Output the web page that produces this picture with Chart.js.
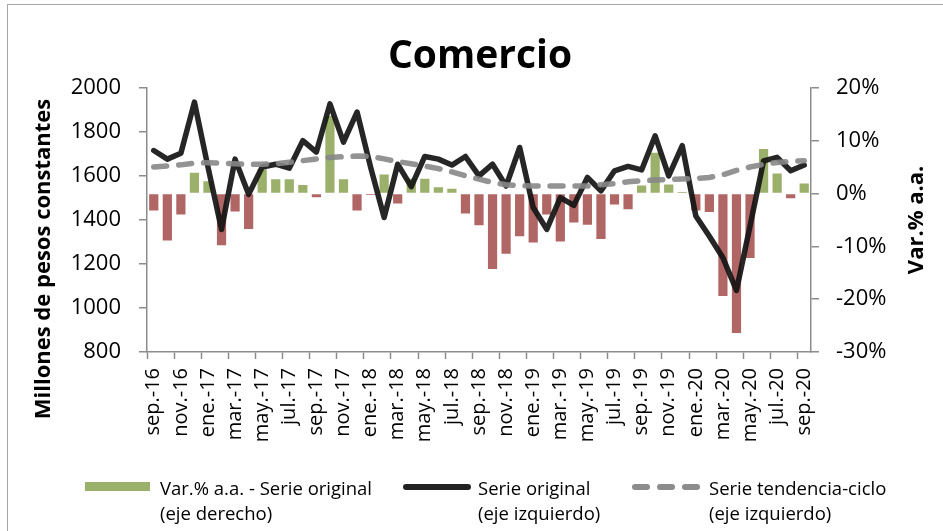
<!DOCTYPE html>
<html>
<head>
<meta charset="utf-8">
<script src="https://cdn.jsdelivr.net/npm/chart.js@4.4.1/dist/chart.umd.min.js"></script>
<style>
  html, body { margin: 0; padding: 0; background: #fff; overflow: hidden; }
  #wrap { position: relative; width: 943px; height: 531px; }
  #frame { position: absolute; left: 7px; top: 4px; width: 1000px; height: 600px;
    border-left: 1.5px solid #a6a6a6; border-top: 1.5px solid #a6a6a6; pointer-events: none; }
  .leg { position: absolute; font-family: "Open Sans", sans-serif; font-size: 18.5px; line-height: 25px; color: #000; white-space: nowrap; }
  .sw { position: absolute; }
</style>
</head>
<body>
<div id="wrap">
  <canvas id="myChart" width="943" height="531"></canvas>
  <div id="frame"></div>
  <div class="sw" style="left:85px; top:482px; width:65px; height:9px; background:#9bb06b;"></div>
  <div class="leg" id="leg1" style="left:160px; top:475px;"></div>
  <div class="sw" style="left:403px; top:484px; width:68px; height:6px; border-radius:3px; background:#222;"></div>
  <div class="leg" id="leg2" style="left:478px; top:475px;"></div>
  <div class="sw" style="left:632px; top:484px; width:18px; height:6px; border-radius:3px; background:#8c8c8c;"></div>
  <div class="sw" style="left:657px; top:484px; width:18px; height:6px; border-radius:3px; background:#8c8c8c;"></div>
  <div class="sw" style="left:682px; top:484px; width:18px; height:6px; border-radius:3px; background:#8c8c8c;"></div>
  <div class="leg" id="leg3" style="left:709px; top:475px;"></div>
</div>
<script>
/* global Chart */
var meses = [
  'sep.-16', 'oct.-16', 'nov.-16', 'dic.-16',
  'ene.-17', 'feb.-17', 'mar.-17', 'abr.-17', 'may.-17', 'jun.-17', 'jul.-17', 'ago.-17', 'sep.-17', 'oct.-17', 'nov.-17', 'dic.-17',
  'ene.-18', 'feb.-18', 'mar.-18', 'abr.-18', 'may.-18', 'jun.-18', 'jul.-18', 'ago.-18', 'sep.-18', 'oct.-18', 'nov.-18', 'dic.-18',
  'ene.-19', 'feb.-19', 'mar.-19', 'abr.-19', 'may.-19', 'jun.-19', 'jul.-19', 'ago.-19', 'sep.-19', 'oct.-19', 'nov.-19', 'dic.-19',
  'ene.-20', 'feb.-20', 'mar.-20', 'abr.-20', 'may.-20', 'jun.-20', 'jul.-20', 'ago.-20', 'sep.-20'
];

// variacion % anual (eje derecho)
var varAnual = [
  -3.2, -8.9, -4.0, 3.9, 2.3, -9.8, -3.4, -6.7, 4.6, 2.7, 2.7, 1.6, -0.7, 14.7, 2.7, -3.2,
  -0.3, 3.6, -1.9, 2.8, 2.8, 1.2, 0.9, -3.8, -6.0, -14.3, -11.4, -8.1, -9.3, -4.0, -9.1, -5.5,
  -5.9, -8.6, -2.1, -3.0, 1.5, 7.7, 1.7, 0.3, -3.2, -3.5, -19.4, -26.4, -12.2, 8.4, 3.8, -0.9, 1.9
];

// millones de pesos constantes (eje izquierdo)
var serieOriginal = [
  1715, 1676, 1703, 1935, 1640, 1357, 1676, 1516, 1640, 1653, 1635, 1760, 1708, 1927, 1753, 1890,
  1640, 1411, 1653, 1551, 1688, 1676, 1649, 1688, 1600, 1653, 1554, 1729, 1456, 1357, 1501, 1466,
  1593, 1532, 1623, 1643, 1627, 1782, 1600, 1737, 1418, 1326, 1228, 1080, 1372, 1668, 1684, 1623, 1649
];

var tendenciaCiclo = [
  1640, 1645, 1650, 1658, 1660, 1658, 1655, 1652, 1653, 1655, 1662, 1669, 1677, 1683, 1687, 1690,
  1688, 1677, 1665, 1655, 1645, 1633, 1618, 1600, 1585, 1570, 1560, 1555, 1554, 1554, 1554, 1554,
  1554, 1560, 1565, 1573, 1578, 1581, 1584, 1586, 1587, 1593, 1605, 1625, 1640, 1652, 1661, 1666, 1669
];

var ticksIzq = [800, 1000, 1200, 1400, 1600, 1800, 2000];
var ticksDer = [-30, -20, -10, 0, 10, 20];

var tituloIzq = 'Millones de pesos constantes';
var tituloDer = 'Var.% a.a.';
var leyendas = [
  ['Var.% a.a. - Serie original', '(eje derecho)'],
  ['Serie original', '(eje izquierdo)'],
  ['Serie tendencia-ciclo', '(eje izquierdo)']
];

document.getElementById('leg1').innerHTML = leyendas[0].join('<br>');
document.getElementById('leg2').innerHTML = leyendas[1].join('<br>');
document.getElementById('leg3').innerHTML = leyendas[2].join('<br>');

var fuente = '"Open Sans", sans-serif';
var gris = '#8c8c8c';

var axisTitles = {
  id: 'axisTitles',
  afterDraw: function(chart) {
    var c = chart.ctx;
    c.save();
    c.font = 'bold 22px ' + fuente;
    c.fillStyle = '#000';
    c.textAlign = 'center';
    c.textBaseline = 'middle';
    c.translate(44, 259);
    c.rotate(-Math.PI / 2);
    c.fillText(tituloIzq, 0, 0);
    c.restore();
    c.save();
    c.font = 'bold 22px ' + fuente;
    c.fillStyle = '#000';
    c.textAlign = 'center';
    c.textBaseline = 'middle';
    c.translate(917, (chart.chartArea.top + chart.chartArea.bottom) / 2);
    c.rotate(-Math.PI / 2);
    c.fillText(tituloDer, 0, 0);
    c.restore();
  }
};

var ctx = document.getElementById('myChart');
var myChart = new Chart(ctx, {
  type: 'bar',
  data: {
    labels: meses,
    datasets: [
      {
        type: 'line',
        label: 'Serie tendencia-ciclo',
        data: tendenciaCiclo,
        yAxisID: 'y',
        borderColor: 'rgba(135,135,135,0.9)',
        borderWidth: 5.5,
        borderDash: [13, 12],
        borderCapStyle: 'round',
        pointRadius: 0,
        fill: false,
        order: 0
      },
      {
        type: 'line',
        label: 'Serie original',
        data: serieOriginal,
        yAxisID: 'y',
        borderColor: 'rgba(20,20,20,0.92)',
        borderWidth: 5.5,
        borderJoinStyle: 'round',
        borderCapStyle: 'round',
        pointRadius: 0,
        fill: false,
        order: 1
      },
      {
        label: 'Var.% a.a. - Serie original',
        data: varAnual,
        yAxisID: 'y2',
        backgroundColor: varAnual.map(function(v) { return v >= 0 ? '#9bb06b' : '#b06664'; }),
        barPercentage: 0.68,
        categoryPercentage: 1,
        order: 2
      }
    ]
  },
  options: {
    responsive: false,
    animation: false,
    layout: { padding: { left: 17, right: 0, top: 0, bottom: 79 } },
    plugins: {
      legend: { display: false },
      tooltip: { enabled: false },
      title: {
        display: true,
        text: 'Comercio',
        color: '#000',
        font: { family: fuente, size: 39, weight: 'bold' },
        padding: { top: 33, bottom: 8 }
      }
    },
    scales: {
      x: {
        offset: true,
        grid: {
          offset: true,
          drawOnChartArea: false,
          tickLength: 7,
          tickWidth: 1.5,
          tickColor: function(c) { return c.index % 2 === 0 ? gris : 'rgba(0,0,0,0)'; }
        },
        border: { color: gris, width: 1.5 },
        ticks: {
          autoSkip: false,
          minRotation: 90,
          maxRotation: 90,
          padding: 9,
          color: '#000',
          font: { family: fuente, size: 20 },
          callback: function(v, i) { return i % 2 === 0 ? meses[i] : ''; }
        },
        afterFit: function(s) { s.height = 100; }
      },
      y: {
        position: 'left',
        min: ticksIzq[0],
        max: ticksIzq[ticksIzq.length - 1],
        grid: { drawOnChartArea: false, tickLength: 8, color: gris, lineWidth: 1.5 },
        border: { color: gris, width: 1.5 },
        ticks: {
          stepSize: ticksIzq[1] - ticksIzq[0],
          padding: 18,
          color: '#000',
          font: { family: fuente, size: 22 },
          callback: function(v) { return String(v); }
        },
        afterFit: function(s) { s.width = 130; }
      },
      y2: {
        position: 'right',
        min: ticksDer[0],
        max: ticksDer[ticksDer.length - 1],
        grid: { drawOnChartArea: false, tickLength: 8, color: gris, lineWidth: 1.5 },
        border: { color: gris, width: 1.5 },
        ticks: {
          stepSize: ticksDer[1] - ticksDer[0],
          padding: 17,
          color: '#000',
          font: { family: fuente, size: 22 },
          callback: function(v) { return v + '%'; }
        },
        afterFit: function(s) { s.width = 132; }
      }
    }
  },
  plugins: [axisTitles]
});
</script>
</body>
</html>
